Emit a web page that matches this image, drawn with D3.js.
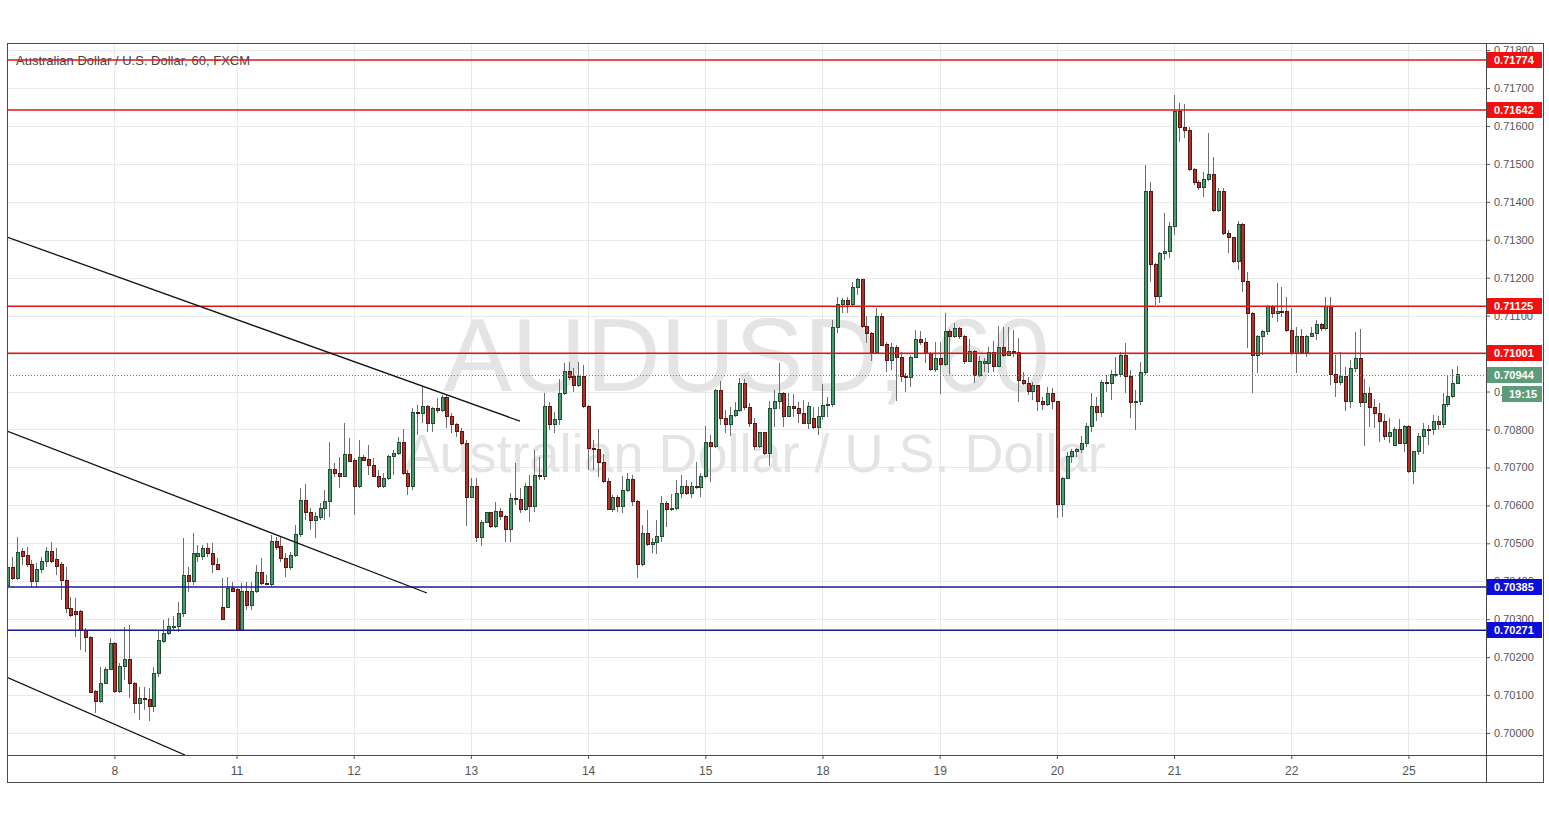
<!DOCTYPE html>
<html><head><meta charset="utf-8">
<script src="https://cdn.jsdelivr.net/npm/d3@7"></script>
<style>
html,body{margin:0;padding:0;background:#fff;}
svg{display:block;font-family:"Liberation Sans",Arial,sans-serif;}
</style>
</head><body>
<svg id="chart" width="1549" height="819"></svg>
<script>
// ---------- DATA (AUD/USD, 60 min, FXCM) ----------
const title = "Australian Dollar / U.S. Dollar, 60, FXCM";
const watermarkSymbol = "AUDUSD, 60";
const watermarkName = "Australian Dollar / U.S. Dollar";

const opens = [
0.70390,0.70435,0.70408,0.70479,0.70469,0.70443,0.70398,0.70432,0.70451,0.70479,0.70456,0.70443,0.70403,0.70329,0.70321,0.70321,0.70271,0.70253,0.70110,0.70082,0.70131,0.70168,0.70237,0.70110,
0.70176,0.70195,0.70131,0.70079,0.70092,0.70089,0.70069,0.70158,0.70242,0.70263,0.70280,0.70280,0.70316,0.70416,0.70398,0.70464,0.70464,0.70485,0.70474,0.70445,0.70332,0.70332,0.70382,0.70377,
0.70271,0.70374,0.70337,0.70374,0.70424,0.70395,0.70392,0.70504,0.70491,0.70461,0.70435,0.70469,0.70522,0.70614,0.70580,0.70561,0.70567,0.70593,0.70611,0.70695,0.70685,0.70677,0.70733,0.70719,
0.70649,0.70725,0.70722,0.70706,0.70677,0.70649,0.70672,0.70728,0.70738,0.70767,0.70685,0.70649,0.70846,0.70843,0.70860,0.70817,0.70854,0.70851,0.70883,0.70835,0.70812,0.70794,0.70764,0.70622,
0.70649,0.70514,0.70556,0.70580,0.70543,0.70585,0.70570,0.70537,0.70619,0.70616,0.70588,0.70649,0.70598,0.70680,0.70677,0.70860,0.70812,0.70827,0.70896,0.70954,0.70939,0.70917,0.70939,0.70860,
0.70751,0.70748,0.70714,0.70662,0.70590,0.70622,0.70596,0.70638,0.70669,0.70609,0.70443,0.70527,0.70496,0.70501,0.70519,0.70606,0.70590,0.70593,0.70630,0.70651,0.70630,0.70649,0.70646,0.70677,
0.70767,0.70754,0.70904,0.70830,0.70812,0.70838,0.70851,0.70922,0.70857,0.70817,0.70756,0.70791,0.70736,0.70854,0.70875,0.70896,0.70835,0.70860,0.70854,0.70843,0.70817,0.70830,0.70804,0.70833,
0.70862,0.70865,0.71068,0.71130,0.71141,0.71130,0.71173,0.71194,0.71071,0.71054,0.71004,0.71099,0.71025,0.70983,0.71015,0.70991,0.70939,0.70936,0.70991,0.71038,0.71028,0.71001,0.70957,0.70986,
0.70970,0.71057,0.71044,0.71065,0.71044,0.70980,0.71006,0.70941,0.70975,0.70975,0.71004,0.70967,0.71015,0.70996,0.71006,0.71004,0.70930,0.70922,0.70899,0.70915,0.70873,0.70865,0.70896,0.70873,
0.70601,0.70672,0.70728,0.70743,0.70748,0.70762,0.70807,0.70860,0.70846,0.70925,0.70922,0.70944,0.70946,0.70996,0.70939,0.70870,0.70873,0.70949,0.71428,0.71234,0.71150,0.71265,0.71268,0.71334,
0.71639,0.71595,0.71589,0.71484,0.71450,0.71437,0.71460,0.71473,0.71378,0.71428,0.71316,0.71305,0.71242,0.71339,0.71189,0.71107,0.70996,0.71044,0.71057,0.71123,0.71107,0.71112,0.71110,0.71062,
0.70999,0.71044,0.71004,0.71046,0.71054,0.71076,0.71065,0.71125,0.70944,0.70925,0.70939,0.70873,0.70962,0.70986,0.70870,0.70896,0.70857,0.70843,0.70822,0.70781,0.70759,0.70801,0.70764,0.70807,
0.70688,0.70741,0.70781,0.70801,0.70799,0.70822,0.70814,0.70865,0.70886,0.70922];

const highs = [
0.70469,0.70464,0.70517,0.70488,0.70491,0.70456,0.70448,0.70464,0.70491,0.70504,0.70488,0.70451,0.70438,0.70359,0.70356,0.70324,0.70277,0.70255,0.70113,0.70174,0.70174,0.70250,0.70240,0.70184,
0.70280,0.70285,0.70134,0.70121,0.70121,0.70118,0.70174,0.70271,0.70298,0.70303,0.70308,0.70345,0.70514,0.70438,0.70527,0.70496,0.70496,0.70501,0.70501,0.70461,0.70408,0.70411,0.70398,0.70382,
0.70395,0.70398,0.70398,0.70443,0.70461,0.70416,0.70522,0.70517,0.70517,0.70474,0.70477,0.70548,0.70646,0.70656,0.70593,0.70583,0.70606,0.70640,0.70767,0.70711,0.70728,0.70817,0.70778,0.70725,
0.70772,0.70733,0.70759,0.70725,0.70693,0.70685,0.70733,0.70746,0.70781,0.70801,0.70693,0.70857,0.70865,0.70912,0.70865,0.70860,0.70883,0.70891,0.70891,0.70843,0.70817,0.70804,0.70772,0.70672,
0.70672,0.70561,0.70583,0.70583,0.70609,0.70593,0.70575,0.70632,0.70711,0.70646,0.70659,0.70680,0.70746,0.70728,0.70896,0.70873,0.70846,0.70933,0.70975,0.70978,0.70962,0.70978,0.70970,0.70865,
0.70772,0.70801,0.70736,0.70672,0.70627,0.70627,0.70677,0.70685,0.70680,0.70614,0.70548,0.70588,0.70514,0.70561,0.70624,0.70611,0.70630,0.70667,0.70680,0.70667,0.70662,0.70714,0.70685,0.70809,
0.70786,0.70907,0.70927,0.70851,0.70860,0.70873,0.70936,0.70933,0.70870,0.70830,0.70794,0.70794,0.70875,0.70904,0.70975,0.70899,0.70896,0.70894,0.70873,0.70878,0.70873,0.70860,0.70860,0.70920,
0.70886,0.71089,0.71150,0.71147,0.71150,0.71189,0.71199,0.71197,0.71099,0.71057,0.71120,0.71107,0.71030,0.71028,0.71022,0.71004,0.70949,0.70996,0.71062,0.71059,0.71041,0.71004,0.71030,0.71030,
0.71107,0.71065,0.71081,0.71071,0.71049,0.71038,0.71009,0.70993,0.70988,0.71018,0.71033,0.71073,0.71071,0.71071,0.71062,0.71041,0.70951,0.70939,0.70925,0.70917,0.70886,0.70912,0.70909,0.70875,
0.70675,0.70741,0.70748,0.70751,0.70783,0.70817,0.70896,0.70886,0.70930,0.70944,0.70957,0.70991,0.71004,0.71028,0.70957,0.70904,0.70978,0.71497,0.71453,0.71239,0.71268,0.71370,0.71347,0.71682,
0.71660,0.71657,0.71598,0.71489,0.71458,0.71479,0.71582,0.71518,0.71437,0.71437,0.71326,0.71307,0.71349,0.71344,0.71215,0.71110,0.71049,0.71062,0.71128,0.71128,0.71186,0.71176,0.71150,0.71120,
0.71071,0.71065,0.71049,0.71071,0.71089,0.71081,0.71150,0.71150,0.70996,0.71004,0.70965,0.70983,0.71057,0.71065,0.70933,0.70912,0.70880,0.70870,0.70841,0.70830,0.70807,0.70827,0.70812,0.70812,
0.70741,0.70791,0.70817,0.70812,0.70838,0.70835,0.70896,0.70941,0.70959,0.70967];

const lows = [
0.70372,0.70403,0.70403,0.70443,0.70438,0.70385,0.70382,0.70421,0.70438,0.70448,0.70416,0.70350,0.70316,0.70306,0.70253,0.70219,0.70214,0.70105,0.70052,0.70079,0.70128,0.70166,0.70105,0.70105,
0.70139,0.70092,0.70052,0.70034,0.70060,0.70031,0.70055,0.70148,0.70237,0.70258,0.70271,0.70266,0.70306,0.70372,0.70390,0.70451,0.70456,0.70464,0.70421,0.70429,0.70298,0.70329,0.70372,0.70268,
0.70268,0.70324,0.70324,0.70369,0.70390,0.70390,0.70385,0.70482,0.70451,0.70411,0.70429,0.70464,0.70517,0.70561,0.70535,0.70514,0.70561,0.70561,0.70570,0.70675,0.70646,0.70675,0.70714,0.70575,
0.70646,0.70716,0.70680,0.70675,0.70646,0.70646,0.70667,0.70680,0.70733,0.70680,0.70627,0.70640,0.70786,0.70817,0.70794,0.70794,0.70843,0.70846,0.70804,0.70791,0.70781,0.70759,0.70545,0.70619,
0.70504,0.70493,0.70553,0.70540,0.70540,0.70561,0.70504,0.70504,0.70601,0.70580,0.70585,0.70556,0.70583,0.70667,0.70667,0.70799,0.70791,0.70812,0.70891,0.70930,0.70899,0.70912,0.70857,0.70693,
0.70693,0.70675,0.70659,0.70588,0.70583,0.70583,0.70580,0.70635,0.70598,0.70408,0.70440,0.70493,0.70474,0.70472,0.70504,0.70543,0.70585,0.70588,0.70619,0.70627,0.70619,0.70643,0.70622,0.70672,
0.70662,0.70751,0.70812,0.70791,0.70783,0.70833,0.70846,0.70851,0.70807,0.70746,0.70751,0.70733,0.70703,0.70807,0.70854,0.70807,0.70833,0.70833,0.70817,0.70814,0.70801,0.70801,0.70786,0.70825,
0.70833,0.70860,0.71054,0.71107,0.71107,0.71123,0.71155,0.71068,0.71028,0.70980,0.71001,0.71020,0.70951,0.70957,0.70875,0.70925,0.70899,0.70912,0.70988,0.71023,0.70975,0.70954,0.70951,0.70894,
0.70967,0.70946,0.71041,0.71038,0.70972,0.70978,0.70922,0.70939,0.70951,0.70949,0.70951,0.70965,0.70991,0.70993,0.70991,0.70873,0.70917,0.70891,0.70878,0.70849,0.70851,0.70862,0.70854,0.70567,
0.70570,0.70669,0.70711,0.70728,0.70738,0.70754,0.70794,0.70822,0.70833,0.70899,0.70878,0.70939,0.70939,0.70896,0.70830,0.70799,0.70865,0.70944,0.71189,0.71128,0.71133,0.71247,0.71252,0.71313,
0.71558,0.71568,0.71481,0.71444,0.71431,0.71413,0.71455,0.71373,0.71373,0.71313,0.71265,0.71239,0.71220,0.71163,0.71015,0.70896,0.70949,0.70996,0.71049,0.71094,0.71083,0.71097,0.71057,0.70996,
0.70949,0.71001,0.70991,0.71044,0.71036,0.71059,0.71062,0.70917,0.70886,0.70917,0.70849,0.70857,0.70951,0.70860,0.70756,0.70807,0.70804,0.70767,0.70772,0.70764,0.70756,0.70762,0.70741,0.70685,
0.70656,0.70733,0.70736,0.70759,0.70786,0.70799,0.70804,0.70860,0.70883,0.70920];

const closes = [
0.70435,0.70408,0.70477,0.70466,0.70443,0.70398,0.70432,0.70451,0.70479,0.70453,0.70440,0.70403,0.70329,0.70311,0.70313,0.70271,0.70253,0.70108,0.70082,0.70131,0.70168,0.70237,0.70110,0.70176,
0.70195,0.70131,0.70079,0.70092,0.70087,0.70069,0.70158,0.70245,0.70263,0.70280,0.70282,0.70316,0.70416,0.70398,0.70474,0.70474,0.70485,0.70474,0.70445,0.70432,0.70300,0.70382,0.70374,0.70271,
0.70374,0.70337,0.70374,0.70424,0.70395,0.70392,0.70504,0.70488,0.70461,0.70435,0.70469,0.70522,0.70614,0.70580,0.70561,0.70570,0.70593,0.70611,0.70695,0.70685,0.70677,0.70733,0.70716,0.70649,
0.70725,0.70719,0.70706,0.70677,0.70649,0.70672,0.70728,0.70738,0.70767,0.70685,0.70649,0.70846,0.70843,0.70860,0.70817,0.70854,0.70851,0.70883,0.70835,0.70812,0.70794,0.70764,0.70622,0.70649,
0.70514,0.70556,0.70580,0.70543,0.70585,0.70570,0.70537,0.70619,0.70616,0.70588,0.70649,0.70598,0.70680,0.70677,0.70860,0.70812,0.70827,0.70896,0.70954,0.70936,0.70917,0.70939,0.70860,0.70751,
0.70748,0.70714,0.70662,0.70590,0.70622,0.70596,0.70638,0.70669,0.70609,0.70443,0.70527,0.70496,0.70501,0.70519,0.70606,0.70590,0.70593,0.70630,0.70651,0.70630,0.70649,0.70646,0.70677,0.70767,
0.70754,0.70904,0.70830,0.70812,0.70838,0.70851,0.70922,0.70857,0.70817,0.70756,0.70791,0.70736,0.70854,0.70875,0.70896,0.70835,0.70860,0.70854,0.70843,0.70817,0.70860,0.70804,0.70833,0.70862,
0.70865,0.71068,0.71130,0.71141,0.71130,0.71173,0.71194,0.71071,0.71054,0.71004,0.71099,0.71022,0.70983,0.71015,0.70991,0.70939,0.70936,0.70991,0.71038,0.71028,0.71001,0.70957,0.70986,0.70970,
0.71057,0.71044,0.71065,0.71044,0.70980,0.71006,0.70941,0.70980,0.70980,0.71004,0.70967,0.71015,0.70996,0.71006,0.71004,0.70930,0.70922,0.70899,0.70915,0.70873,0.70865,0.70896,0.70873,0.70601,
0.70672,0.70728,0.70743,0.70748,0.70762,0.70807,0.70860,0.70846,0.70925,0.70922,0.70944,0.70946,0.70996,0.70939,0.70870,0.70873,0.70949,0.71428,0.71234,0.71150,0.71265,0.71268,0.71334,0.71639,
0.71595,0.71589,0.71484,0.71450,0.71437,0.71460,0.71473,0.71378,0.71428,0.71316,0.71305,0.71242,0.71339,0.71189,0.71107,0.70996,0.71044,0.71057,0.71123,0.71107,0.71112,0.71110,0.71062,0.70999,
0.71044,0.71004,0.71046,0.71054,0.71076,0.71065,0.71125,0.70944,0.70925,0.70939,0.70873,0.70962,0.70986,0.70870,0.70896,0.70857,0.70843,0.70822,0.70781,0.70791,0.70801,0.70764,0.70807,0.70688,
0.70741,0.70781,0.70801,0.70799,0.70822,0.70814,0.70865,0.70886,0.70922,0.70944];

// time axis: bar index where each day label sits
const dayLabels = ["8","11","12","13","14","15","18","19","20","21","22","25"];
const dayBarIndex = [22,47,71,95,119,143,167,191,215,239,263,287];

// price axis
const priceTicks = [0.70000,0.70100,0.70200,0.70300,0.70400,0.70500,0.70600,0.70700,0.70800,0.70900,0.71000,0.71100,0.71200,0.71300,0.71400,0.71500,0.71600,0.71700,0.71800];

// drawn levels
const resistanceLevels = [0.71774,0.71642,0.71125,0.71001];
const supportLevels = [0.70385,0.70271];
const lastPrice = 0.70944;
const countdown = "19:15";

// drawn trend lines: [barIndex, price] pairs
const trendLines = [
  [[0,0.71307],[105.06,0.70822]],
  [[0,0.70796],[86.0,0.70369]],
  [[0,0.70147],[36.45,0.69942]]
];

// ---------- LAYOUT ----------
const svg = d3.select("#chart");
const P = {left:7, top:43, right:1486, bottom:755};
const F = {right:1543, bottom:782};
const BAR = 4.883;
const PX_PER_UNIT = 37940;

const x = d3.scaleLinear().domain([0,303]).range([P.left, P.left + 303*BAR]);
const y = d3.scaleLinear().domain([0.70,0.718]).range([733, 733 - 0.018*PX_PER_UNIT]);
const fmt = d3.format(".5f");
const yRow = v => Math.round(y(v));

const candles = opens.map((o,i)=>({i, o, h:highs[i], l:lows[i], c:closes[i]}));

const defs = svg.append("defs");
defs.append("clipPath").attr("id","plotclip").append("rect")
  .attr("x",P.left).attr("y",P.top).attr("width",P.right-P.left).attr("height",P.bottom-P.top);

svg.append("rect").attr("width",1549).attr("height",819).attr("fill","#fff");

// grid
const grid = svg.append("g").attr("clip-path","url(#plotclip)");
grid.selectAll("rect.gh").data(priceTicks).join("rect").attr("class","gh")
  .attr("x",P.left).attr("width",P.right-P.left)
  .attr("y",yRow).attr("height",1)
  .attr("fill","#e9e9e9");
grid.selectAll("rect.gv").data(dayBarIndex).join("rect").attr("class","gv")
  .attr("y",P.top).attr("height",P.bottom-P.top)
  .attr("x",d=>Math.round(x(d))).attr("width",1)
  .attr("fill","#e9e9e9");

// watermark
const cx = (P.left+P.right)/2;
svg.append("text").attr("x",cx).attr("y",391).attr("text-anchor","middle")
  .attr("font-size",103).attr("fill","#e4e4e4").text(watermarkSymbol);
svg.append("text").attr("x",cx+8).attr("y",472).attr("text-anchor","middle")
  .attr("font-size",54).attr("fill","#e4e4e4").text(watermarkName);

// title
svg.append("text").attr("x",16).attr("y",65).attr("font-size",13)
  .attr("fill","#444").text(title);

const plot = svg.append("g").attr("clip-path","url(#plotclip)");

// candles
const UP_FILL="#4e9a6e", UP_STROKE="#1f4f33", DN_FILL="#b0302a", DN_STROKE="#581712", WICK="#6e6e6e";
const cg = plot.append("g").attr("shape-rendering","crispEdges");
cg.selectAll("line.wick").data(candles).join("line").attr("class","wick")
  .attr("x1",d=>Math.round(x(d.i))+0.5).attr("x2",d=>Math.round(x(d.i))+0.5)
  .attr("y1",d=>y(d.h)).attr("y2",d=>y(d.l))
  .attr("stroke",WICK).attr("stroke-width",1);
cg.selectAll("rect.body").data(candles).join("rect").attr("class","body")
  .attr("x",d=>Math.round(x(d.i))-1)
  .attr("width",3)
  .attr("y",d=>y(Math.max(d.o,d.c)))
  .attr("height",d=>Math.max(1,Math.abs(y(d.o)-y(d.c))))
  .attr("fill",d=>d.c>=d.o?UP_FILL:DN_FILL)
  .attr("stroke",d=>d.c>=d.o?UP_STROKE:DN_STROKE)
  .attr("stroke-width",1);

// drawings on top of the series
const dr = plot.append("g");
dr.selectAll("line.res").data(resistanceLevels).join("line").attr("class","res")
  .attr("x1",P.left).attr("x2",P.right)
  .attr("y1",d=>y(d)).attr("y2",d=>y(d))
  .attr("stroke","rgb(225,20,20)").attr("stroke-width",1.5);
dr.selectAll("line.sup").data(supportLevels).join("line").attr("class","sup")
  .attr("x1",P.left).attr("x2",P.right)
  .attr("y1",d=>y(d)).attr("y2",d=>y(d))
  .attr("stroke","rgb(25,25,150)").attr("stroke-width",1.5);
dr.append("line").attr("class","last").attr("x1",P.left).attr("x2",P.right)
  .attr("y1",yRow(lastPrice)+0.5).attr("y2",yRow(lastPrice)+0.5)
  .attr("stroke","#4f9373").attr("stroke-dasharray","1,2").attr("shape-rendering","crispEdges");
const tl = d3.line().x(d=>x(d[0])).y(d=>y(d[1]));
dr.selectAll("path.trend").data(trendLines).join("path").attr("class","trend")
  .attr("d",tl).attr("fill","none").attr("stroke","#111").attr("stroke-width",1.3);

// price axis
const yAxis = d3.axisRight(y).tickValues(priceTicks).tickFormat(fmt).tickSize(4).tickPadding(4);
const ya = svg.append("g").attr("transform",`translate(${P.right},0)`).call(yAxis);
ya.select(".domain").remove();
ya.selectAll(".tick line").attr("stroke","#555");
ya.selectAll(".tick text").attr("fill","#555").attr("font-size",11).attr("font-family","Liberation Sans, Arial, sans-serif");

// time axis
const xAxis = d3.axisBottom(x).tickValues(dayBarIndex).tickFormat((d,i)=>dayLabels[i]).tickSize(4).tickPadding(7);
const xa = svg.append("g").attr("transform",`translate(0,${P.bottom})`).call(xAxis);
xa.select(".domain").remove();
xa.selectAll(".tick line").attr("stroke","#555");
xa.selectAll(".tick text").attr("fill","#555").attr("font-size",12).attr("font-family","Liberation Sans, Arial, sans-serif");

// frame
const fr = svg.append("g").attr("shape-rendering","crispEdges").attr("stroke","#4a4a4a").attr("fill","none");
fr.append("rect").attr("x",P.left+0.5).attr("y",P.top+0.5).attr("width",F.right-P.left).attr("height",F.bottom-P.top);
fr.append("line").attr("x1",P.right+0.5).attr("x2",P.right+0.5).attr("y1",P.top).attr("y2",F.bottom);
fr.append("line").attr("x1",P.left).attr("x2",F.right).attr("y1",P.bottom+0.5).attr("y2",P.bottom+0.5);

// price tags
function tag(v, fill, label, x0, w){
  const yy = yRow(v);
  svg.append("rect").attr("x",x0).attr("y",yy-8).attr("width",w).attr("height",16).attr("fill",fill);
  svg.append("text").attr("x",x0+7).attr("y",yy+4).attr("font-size",11).attr("font-weight","bold")
    .attr("fill","#fff").text(label);
}
resistanceLevels.forEach(v=>tag(v,"#f01010",fmt(v),P.right+1,55));
supportLevels.forEach(v=>tag(v,"#0c0cdc",fmt(v),P.right+1,55));
tag(lastPrice,"#5c9c7a",fmt(lastPrice),P.right+1,55);
{
  const yy = yRow(lastPrice)+19;
  svg.append("rect").attr("x",P.right+16).attr("y",yy-8).attr("width",40).attr("height",16).attr("fill","#5c9c7a");
  svg.append("text").attr("x",P.right+23).attr("y",yy+4).attr("font-size",11).attr("font-weight","bold")
    .attr("fill","#fff").text(countdown);
}
</script>
</body></html>
